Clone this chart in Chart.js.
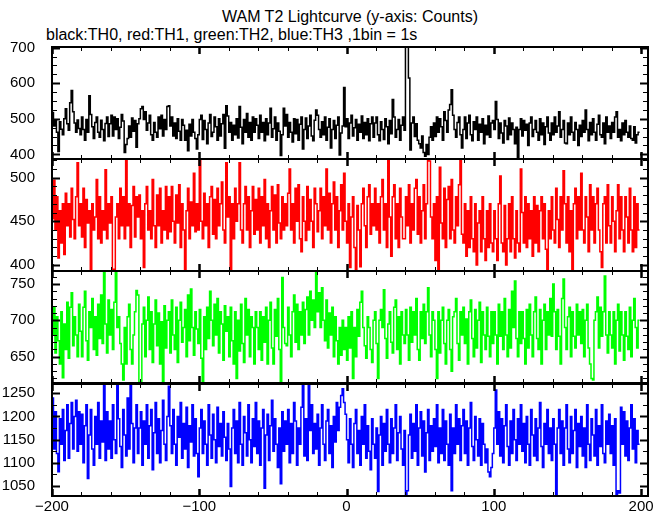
<!DOCTYPE html>
<html lang="en">

<head>
    <meta charset="UTF-8" />
    <title>WAM T2 Lightcurve</title>
    <script src="https://cdn.jsdelivr.net/npm/chart.js"></script>
    <style>
        body { margin: 0; background: #fff; }
        #pagina { position: relative; width: 669px; height: 515px; background: #fff; font-family: "Liberation Sans", Arial, sans-serif; color: #000; }
        #titulo { position: absolute; top: 9px; left: 52px; width: 596px; text-align: center; font-size: 16px; line-height: 16px; }
        #legenda { position: absolute; top: 27px; left: 46px; font-size: 16px; line-height: 16px; white-space: nowrap; }
        canvas { position: absolute; left: 0; }
    </style>
</head>

<body>
    <div id="pagina">
        <div id="titulo">WAM T2 Lightcurve (y-axis: Counts)</div>
        <div id="legenda">black:TH0, red:TH1, green:TH2, blue:TH3 ,1bin = 1s</div>
        <canvas id="grafTH0" width="669" height="132" style="top:37px"></canvas>
        <canvas id="grafTH1" width="669" height="132" style="top:149px"></canvas>
        <canvas id="grafTH2" width="669" height="132" style="top:261px"></canvas>
        <canvas id="grafTH3" width="669" height="141" style="top:374px"></canvas>
    </div>
    <script>
        // time axis: 1 bin = 1 s, first bin starts at -200 s
        const binInicio = -200;
        const binLargura = 1;
        const xTicks = [-200, -100, 0, 100, 200];

        const th0Ticks = [400, 500, 600, 700];
        const th1Ticks = [400, 450, 500];
        const th2Ticks = [650, 700, 750];
        const th3Ticks = [1050, 1100, 1150, 1200, 1250];

        const th0Counts = [
            505, 518, 480, 497, 462, 408, 492, 471, 455, 500, 528, 486, 468, 545, 580, 520, 488, 462, 497, 473,
            455, 505, 470, 440, 498, 462, 565, 512, 478, 445, 490, 505, 462, 448, 496, 470, 438, 487, 505, 450,
            486, 510, 452, 505, 470, 500, 445, 476, 512, 494, 405, 428, 445, 480, 448, 502, 465, 495, 420, 486,
            500, 528, 535, 498, 520, 468, 488, 510, 455, 440, 490, 462, 448, 505, 472, 510, 452, 498, 470, 535,
            537, 480, 505, 452, 488, 445, 500, 465, 440, 498, 482, 440, 468, 410, 485, 452, 498, 462, 445, 415,
            455, 498, 510, 442, 495, 470, 430, 488, 512, 450, 462, 505, 478, 440, 500, 452, 486, 512, 417, 537,
            508, 462, 490, 440, 482, 455, 500, 446, 535, 476, 430, 498, 462, 515, 448, 490, 440, 505, 462, 500,
            482, 445, 510, 462, 490, 438, 500, 455, 488, 530, 448, 472, 505, 440, 488, 465, 397, 455, 530, 480,
            512, 448, 490, 462, 435, 500, 458, 498, 440, 485, 505, 415, 470, 502, 445, 480, 510, 452, 438, 496,
            525, 510, 470, 448, 492, 455, 505, 440, 476, 500, 418, 470, 495, 445, 482, 505, 398, 460, 480, 588,
            478, 500, 445, 488, 510, 452, 475, 498, 440, 485, 462, 508, 445, 490, 455, 500, 438, 486, 505, 448,
            488, 505, 455, 438, 492, 470, 442, 500, 478, 430, 495, 458, 554, 505, 448, 470, 498, 440, 482, 505,
            468, 718, 710, 615, 412, 488, 505, 450, 486, 440, 430, 418, 452, 405, 395, 428, 400, 448, 478, 440,
            488, 450, 505, 462, 500, 478, 440, 520, 495, 462, 525, 540, 582, 510, 470, 448, 490, 505, 455, 418,
            470, 505, 445, 488, 510, 455, 438, 492, 470, 505, 440, 485, 462, 500, 430, 482, 455, 508, 448, 488,
            495, 470, 549, 498, 445, 488, 460, 432, 495, 480, 442, 502, 455, 488, 470, 430, 476, 392, 470, 500,
            452, 495, 468, 485, 425, 488, 505, 450, 470, 495, 462, 440, 500, 455, 488, 428, 478, 505, 460, 440,
            488, 455, 505, 462, 480, 520, 448, 470, 495, 432, 430, 488, 455, 505, 462, 440, 490, 470, 425, 482,
            450, 495, 462, 525, 470, 438, 490, 455, 500, 462, 440, 485, 510, 455, 448, 488, 430, 505, 462, 480,
            445, 490, 462, 505, 520, 448, 470, 438, 488, 455, 495, 462, 448, 480, 445, 440, 478, 432, 455, 462
        ];

        const th1Counts = [
            495, 453, 497, 440, 478, 408, 462, 425, 470, 412, 482, 445, 470, 432, 488, 452, 430, 478, 517, 445,
            470, 432, 488, 420, 475, 448, 462, 392, 470, 440, 455, 498, 430, 478, 425, 462, 440, 509, 430, 470,
            448, 478, 392, 395, 455, 470, 430, 488, 445, 478, 430, 521, 445, 470, 420, 468, 490, 432, 478, 455,
            480, 430, 462, 397, 470, 490, 440, 462, 430, 498, 445, 420, 480, 445, 488, 425, 462, 440, 490, 430,
            478, 438, 490, 450, 425, 480, 448, 492, 420, 470, 440, 395, 462, 488, 430, 472, 445, 505, 438, 470,
            440, 521, 450, 430, 482, 445, 470, 420, 478, 490, 435, 475, 430, 488, 445, 470, 495, 440, 425, 517,
            455, 478, 392, 470, 430, 488, 450, 470, 517, 440, 425, 470, 490, 440, 478, 420, 462, 490, 435, 475,
            440, 488, 425, 478, 445, 498, 430, 470, 420, 462, 490, 440, 480, 425, 492, 448, 430, 478, 440, 470,
            445, 482, 510, 440, 470, 425, 488, 450, 492, 430, 415, 478, 450, 428, 490, 440, 475, 450, 420, 488,
            470, 438, 462, 488, 430, 478, 445, 510, 440, 482, 425, 470, 495, 440, 478, 420, 462, 492, 440, 505,
            450, 425, 470, 397, 455, 478, 420, 395, 468, 440, 398, 470, 488, 445, 420, 478, 492, 435, 470, 445,
            488, 440, 470, 425, 478, 498, 440, 470, 420, 521, 455, 410, 478, 492, 430, 470, 420, 488, 455, 430,
            430, 478, 445, 492, 425, 470, 440, 488, 498, 435, 478, 425, 462, 492, 430, 470, 521, 519, 455, 430,
            470, 405, 478, 392, 512, 448, 430, 488, 420, 475, 490, 430, 498, 440, 425, 478, 445, 492, 521, 435,
            425, 470, 410, 462, 420, 478, 430, 415, 470, 400, 448, 462, 415, 478, 430, 405, 462, 420, 470, 425,
            415, 462, 430, 405, 470, 502, 425, 415, 468, 400, 430, 470, 415, 478, 430, 408, 462, 425, 415, 510,
            460, 425, 478, 420, 470, 430, 462, 410, 478, 425, 468, 415, 462, 478, 430, 470, 418, 392, 462, 430,
            478, 440, 425, 488, 452, 420, 478, 440, 508, 470, 425, 478, 415, 462, 392, 470, 488, 430, 478, 440,
            505, 440, 425, 478, 455, 415, 492, 440, 478, 425, 470, 488, 440, 415, 397, 470, 478, 425, 492, 445,
            425, 478, 450, 415, 462, 492, 430, 478, 440, 415, 478, 455, 425, 488, 440, 415, 478, 420, 470, 440
        ];

        const th2Counts = [
            735, 680, 718, 655, 705, 672, 640, 712, 621, 695, 660, 725, 648, 718, 738, 665, 705, 680, 650, 722,
            685, 650, 718, 740, 672, 645, 712, 690, 730, 660, 705, 652, 722, 675, 735, 668, 767, 695, 655, 728,
            680, 715, 660, 725, 767, 690, 705, 668, 640, 618, 690, 640, 705, 722, 660, 640, 680, 712, 741, 735,
            613, 615, 695, 718, 650, 700, 732, 660, 712, 642, 695, 728, 665, 710, 640, 698, 613, 720, 662, 700,
            712, 655, 728, 680, 660, 718, 642, 700, 725, 670, 690, 715, 650, 735, 672, 743, 690, 652, 712, 688,
            668, 715, 648, 613, 705, 660, 718, 675, 740, 700, 665, 722, 680, 730, 655, 712, 695, 645, 720, 685,
            705, 650, 718, 672, 640, 712, 620, 700, 658, 722, 668, 642, 730, 680, 715, 650, 705, 690, 640, 712,
            690, 660, 712, 645, 705, 670, 718, 640, 700, 725, 662, 640, 715, 678, 730, 660, 613, 759, 690, 668,
            665, 718, 680, 650, 712, 735, 670, 722, 660, 712, 680, 725, 668, 715, 732, 680, 740, 700, 728, 690,
            767, 712, 738, 690, 745, 700, 672, 728, 662, 710, 680, 718, 650, 705, 672, 640, 690, 652, 700, 660,
            690, 645, 705, 662, 712, 620, 690, 650, 715, 678, 725, 740, 690, 665, 648, 705, 690, 660, 642, 700,
            712, 668, 620, 700, 715, 690, 742, 675, 648, 695, 712, 670, 655, 718, 728, 660, 705, 640, 712, 680,
            668, 715, 680, 645, 718, 670, 712, 680, 730, 660, 645, 712, 675, 722, 668, 712, 745, 680, 650, 712,
            700, 660, 620, 712, 655, 700, 718, 668, 640, 700, 715, 660, 630, 705, 712, 730, 668, 645, 712, 680,
            718, 668, 702, 640, 712, 728, 675, 650, 715, 662, 700, 725, 642, 712, 680, 660, 718, 678, 650, 712,
            668, 712, 680, 640, 722, 678, 712, 660, 730, 680, 650, 715, 662, 740, 690, 754, 675, 650, 712, 668,
            712, 675, 640, 715, 662, 722, 680, 650, 712, 732, 675, 660, 715, 640, 700, 722, 660, 712, 680, 730,
            678, 750, 712, 660, 715, 678, 640, 730, 757, 690, 660, 705, 718, 650, 712, 678, 662, 722, 680, 712,
            668, 715, 650, 700, 722, 662, 640, 620, 618, 700, 712, 732, 662, 718, 678, 712, 761, 680, 655, 712,
            680, 662, 712, 640, 700, 722, 658, 712, 680, 645, 712, 678, 660, 718, 650, 700, 730, 690, 662, 700
        ];

        const th3Counts = [
            1180, 1240, 1130, 1210, 1120, 1081, 1195, 1140, 1215, 1105, 1170, 1225, 1110, 1185, 1230, 1130, 1200, 1235, 1125, 1210,
            1140, 1205, 1100, 1180, 1225, 1066, 1160, 1215, 1130, 1095, 1200, 1140, 1230, 1110, 1190, 1145, 1269, 1105, 1210, 1130,
            1190, 1110, 1225, 1150, 1120, 1269, 1195, 1135, 1090, 1215, 1160, 1115, 1240, 1130, 1269, 1185, 1100, 1175, 1225, 1120,
            1175, 1210, 1095, 1190, 1140, 1225, 1110, 1180, 1215, 1085, 1165, 1230, 1120, 1195, 1100, 1170, 1235, 1140, 1105, 1200,
            1265, 1180, 1120, 1215, 1140, 1095, 1200, 1155, 1230, 1110, 1185, 1130, 1220, 1090, 1180, 1145, 1225, 1115, 1195, 1120,
            1070, 1175, 1215, 1120, 1190, 1140, 1095, 1225, 1160, 1110, 1205, 1150, 1100, 1220, 1135, 1185, 1115, 1210, 1155, 1105,
            1185, 1130, 1049, 1175, 1215, 1120, 1190, 1100, 1230, 1140, 1095, 1200, 1165, 1115, 1225, 1150, 1100, 1195, 1135, 1230,
            1120, 1190, 1095, 1175, 1215, 1045, 1160, 1205, 1105, 1180, 1235, 1125, 1195, 1140, 1090, 1175, 1055, 1210, 1125, 1190,
            1140, 1215, 1100, 1185, 1120, 1230, 1190, 1095, 1175, 1140, 1220, 1269, 1115, 1195, 1105, 1269, 1170, 1225, 1120, 1185,
            1130, 1205, 1095, 1175, 1225, 1140, 1105, 1190, 1215, 1120, 1180, 1090, 1200, 1145, 1230, 1170, 1220, 1245, 1260, 1230,
            1205, 1150, 1100, 1195, 1140, 1090, 1185, 1215, 1120, 1170, 1095, 1200, 1140, 1225, 1110, 1180, 1125, 1085, 1195, 1140,
            1110, 1175, 1038, 1160, 1200, 1095, 1185, 1125, 1215, 1140, 1100, 1195, 1120, 1175, 1225, 1105, 1165, 1200, 1130, 1095,
            1170, 1030, 1040, 1160, 1205, 1110, 1185, 1125, 1225, 1095, 1175, 1210, 1115, 1190, 1080, 1165, 1215, 1105, 1180, 1125,
            1195, 1135, 1225, 1100, 1175, 1120, 1215, 1105, 1190, 1140, 1095, 1205, 1040, 1175, 1120, 1225, 1140, 1195, 1105, 1180,
            1215, 1120, 1190, 1095, 1175, 1230, 1135, 1105, 1200, 1150, 1115, 1195, 1095, 1185, 1140, 1100, 1130, 1080, 1070, 1090,
            1120, 1175, 1257, 1140, 1210, 1115, 1195, 1100, 1180, 1225, 1135, 1095, 1190, 1120, 1215, 1150, 1105, 1195, 1140, 1225,
            1125, 1185, 1100, 1200, 1140, 1095, 1215, 1160, 1115, 1195, 1105, 1175, 1230, 1135, 1090, 1185, 1140, 1215, 1120, 1175,
            1105, 1195, 1140, 1030, 1175, 1215, 1120, 1190, 1095, 1175, 1225, 1130, 1100, 1200, 1120, 1170, 1215, 1090, 1185, 1135,
            1200, 1115, 1175, 1090, 1225, 1140, 1105, 1195, 1160, 1115, 1215, 1095, 1180, 1135, 1225, 1120, 1100, 1190, 1140, 1205,
            1120, 1180, 1095, 1195, 1030, 1040, 1035, 1220, 1140, 1210, 1115, 1190, 1105, 1175, 1225, 1130, 1195, 1100, 1170, 1140
        ];

        const paineis = [
            { id: 'grafTH0', dados: th0Counts, cor: '#000000', ticks: th0Ticks, min: 387, max: 702, passoMenor: 25 },
            { id: 'grafTH1', dados: th1Counts, cor: '#ff0000', ticks: th1Ticks, min: 393, max: 521.4, passoMenor: 10 },
            { id: 'grafTH2', dados: th2Counts, cor: '#00ff00', ticks: th2Ticks, min: 613.8, max: 767.9, passoMenor: 10 },
            { id: 'grafTH3', dados: th3Counts, cor: '#0000ff', ticks: th3Ticks, min: 1028.5, max: 1270, passoMenor: 25 }
        ];

        const fonte = { family: '"Liberation Sans", Arial, sans-serif', size: 15, lineHeight: 1 };

        // frame + inward ticks on all four sides
        const moldura = {
            id: 'moldura',
            afterDatasetsDraw(chart, args, opts) {
                const { ctx, chartArea: a, scales } = chart;
                const x = scales.x, y = scales.y;
                ctx.save();
                ctx.strokeStyle = '#000';

                for (let v = -200; v <= 200; v += 20) {
                    const px = Math.round(x.getPixelForValue(v)) + 0.5;
                    const maior = v % 100 === 0;
                    const len = maior ? 7 : 4;
                    ctx.lineWidth = maior ? 2.5 : 1;
                    ctx.beginPath();
                    ctx.moveTo(px, a.top); ctx.lineTo(px, a.top + len);
                    ctx.moveTo(px, a.bottom); ctx.lineTo(px, a.bottom - len);
                    ctx.stroke();
                }

                const inicio = Math.ceil(y.min / opts.passo) * opts.passo;
                for (let v = inicio; v <= y.max; v += opts.passo) {
                    const py = Math.round(y.getPixelForValue(v)) + 0.5;
                    const maior = opts.principais.includes(v);
                    const len = maior ? 8 : 5;
                    ctx.lineWidth = maior ? 2 : 1;
                    ctx.beginPath();
                    ctx.moveTo(a.left, py); ctx.lineTo(a.left + len, py);
                    ctx.moveTo(a.right, py); ctx.lineTo(a.right - len, py);
                    ctx.stroke();
                }

                ctx.lineWidth = 2;
                ctx.strokeRect(a.left, a.top, a.right - a.left, a.bottom - a.top);
                ctx.restore();
            }
        };

        function semPadding(s) {
            s.paddingTop = 0;
            s.paddingBottom = 0;
            s.paddingLeft = 0;
            s.paddingRight = 0;
        }

        function desenharPainel(p, ultimo) {
            const pontos = p.dados.map((v, i) => ({ x: binInicio + i * binLargura, y: v }));
            const ctx = document.getElementById(p.id);
            new Chart(ctx, {
                type: 'line',
                data: {
                    datasets: [{
                        data: pontos,
                        borderColor: p.cor,
                        borderWidth: 1.5,
                        pointRadius: 0,
                        stepped: 'after',
                        fill: false
                    }]
                },
                options: {
                    responsive: false,
                    animation: false,
                    events: [],
                    layout: { padding: { top: 10, bottom: ultimo ? 0 : 10, left: 0, right: 21 } },
                    plugins: {
                        legend: { display: false },
                        tooltip: { enabled: false },
                        moldura: { passo: p.passoMenor, principais: p.ticks }
                    },
                    scales: {
                        x: {
                            type: 'linear',
                            min: -200,
                            max: 204.7,
                            display: ultimo,
                            grid: { display: false, drawTicks: false },
                            border: { display: false },
                            afterBuildTicks: s => { s.ticks = xTicks.map(v => ({ value: v })); },
                            afterFit: s => { s.height = ultimo ? 19 : 0; semPadding(s); },
                            ticks: {
                                color: '#000',
                                font: fonte,
                                padding: 3,
                                maxRotation: 0,
                                autoSkip: false,
                                callback: v => String(v).replace('-', '\u2212')
                            }
                        },
                        y: {
                            min: p.min,
                            max: p.max,
                            grid: { display: false, drawTicks: false },
                            border: { display: false },
                            afterBuildTicks: s => { s.ticks = p.ticks.map(v => ({ value: v })); },
                            afterFit: s => { s.width = 52; semPadding(s); },
                            ticks: { color: '#000', font: fonte, padding: 17, callback: v => String(v) }
                        }
                    }
                },
                plugins: [moldura]
            });
        }

        paineis.forEach((p, i) => desenharPainel(p, i === paineis.length - 1));
    </script>
</body>

</html>
